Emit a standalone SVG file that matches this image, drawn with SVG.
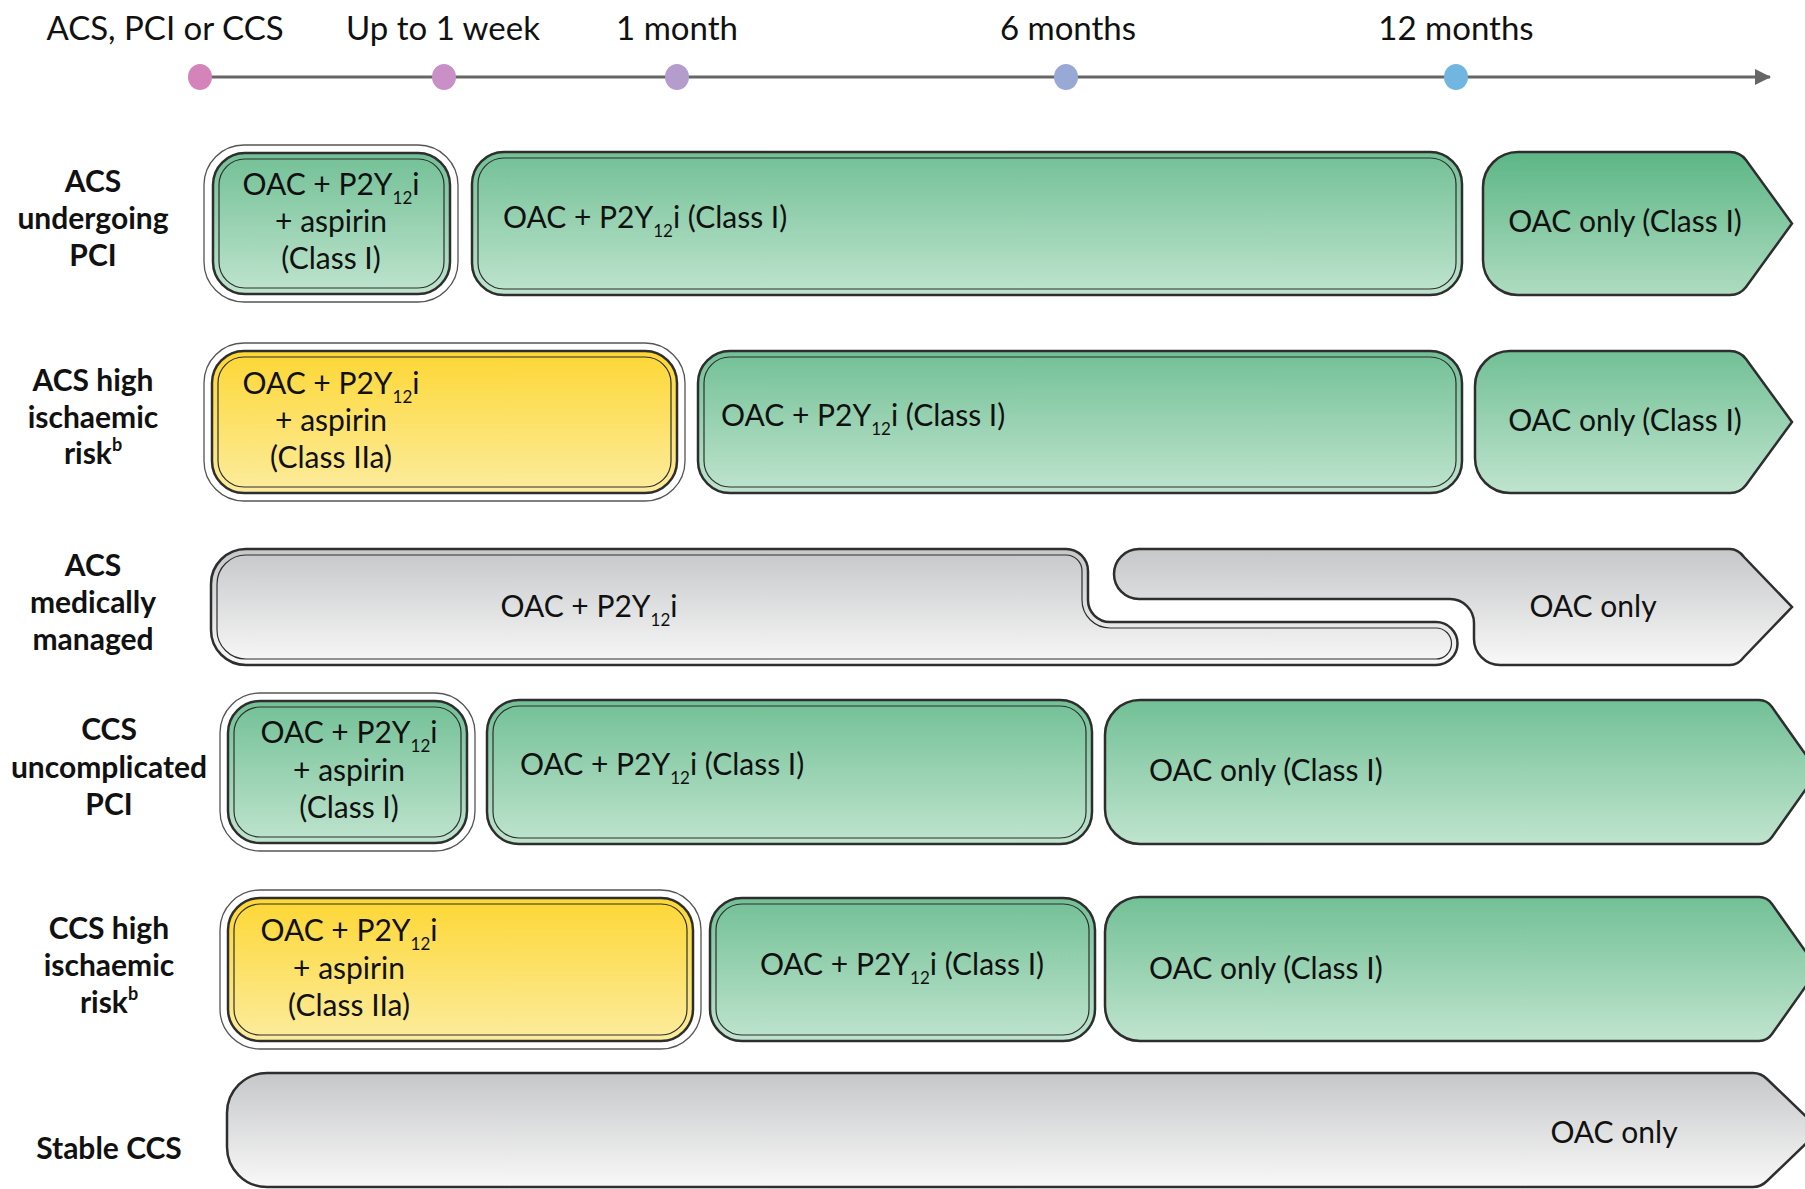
<svg xmlns="http://www.w3.org/2000/svg" width="1805" height="1189" viewBox="0 0 1805 1189">
<defs>
<linearGradient id="gG" x1="0" y1="0" x2="0" y2="1"><stop offset="0" stop-color="#72c096"/><stop offset="1" stop-color="#bfe4ce"/></linearGradient>
<linearGradient id="gGd" x1="0" y1="0" x2="0" y2="1"><stop offset="0" stop-color="#5cb686"/><stop offset="1" stop-color="#aedcc0"/></linearGradient>
<linearGradient id="gY" x1="0" y1="0" x2="0" y2="1"><stop offset="0" stop-color="#fdd734"/><stop offset="1" stop-color="#fcec9e"/></linearGradient>
<linearGradient id="gS" x1="0" y1="0" x2="0" y2="1"><stop offset="0" stop-color="#c6c7c9"/><stop offset="1" stop-color="#f8f8f8"/></linearGradient>
<marker id="ah" markerWidth="16" markerHeight="16" refX="15" refY="8" orient="auto" markerUnits="userSpaceOnUse"><path d="M0,0 L16,8 L0,16 Z" fill="#666"/></marker>
</defs>
<style>
.o{stroke:#2e2e2e;stroke-width:2.5}
.in{fill:none;stroke:#2e2e2e;stroke-width:1.2}
.halo{fill:#fff;stroke:#555;stroke-width:1.3}
.gr{fill:url(#gG)}
.grd{fill:url(#gGd)}
.ye{fill:url(#gY)}
.si{fill:url(#gS)}
text{font-family:Lato,"Liberation Sans",Arial,sans-serif;fill:#111}
.t{font-size:30px}
.tc{font-size:30px;text-anchor:middle}
.lb{font-size:30px;font-weight:bold;text-anchor:middle}
.tl{font-size:33px;text-anchor:middle}
.sub{font-size:17px}
</style>

<g id="timeline-axis">
<line x1="200" y1="77" x2="1770" y2="77" stroke="#666" stroke-width="3" marker-end="url(#ah)"/>
<ellipse cx="200" cy="77" rx="12" ry="13" fill="#d484b8"/>
<ellipse cx="444" cy="77" rx="12" ry="13" fill="#c890c6"/>
<ellipse cx="677" cy="77" rx="12" ry="13" fill="#b49ccc"/>
<ellipse cx="1066" cy="77" rx="12" ry="13" fill="#98a9d6"/>
<ellipse cx="1456" cy="77" rx="12" ry="13" fill="#70b6e0"/>
<text class="tl" x="165" y="40">ACS, PCI or CCS</text>
<text class="tl" x="443" y="40">Up to 1 week</text>
<text class="tl" x="677" y="40">1 month</text>
<text class="tl" x="1068" y="40">6 months</text>
<text class="tl" x="1456" y="40">12 months</text>
</g>

<g id="row-labels">
<text class="lb" x="93" y="192">ACS</text>
<text class="lb" x="93" y="229">undergoing</text>
<text class="lb" x="93" y="266">PCI</text>
<text class="lb" x="93" y="391">ACS high</text>
<text class="lb" x="93" y="428">ischaemic</text>
<text class="lb" x="93" y="464">risk<tspan font-size="18" dy="-13">b</tspan></text>
<text class="lb" x="93" y="576">ACS</text>
<text class="lb" x="93" y="613">medically</text>
<text class="lb" x="93" y="650">managed</text>
<text class="lb" x="109" y="740">CCS</text>
<text class="lb" x="109" y="778">uncomplicated</text>
<text class="lb" x="109" y="815">PCI</text>
<text class="lb" x="109" y="939">CCS high</text>
<text class="lb" x="109" y="976">ischaemic</text>
<text class="lb" x="109" y="1013">risk<tspan font-size="18" dy="-13">b</tspan></text>
<text class="lb" x="109" y="1159">Stable CCS</text>
</g>

<!-- Row 1 -->
<g id="r1-triple">
<rect class="halo" x="204" y="145" width="254" height="157" rx="40"/>
<rect class="o gr" x="213" y="153" width="237" height="141" rx="32"/>
<rect class="in" x="219" y="159" width="225" height="129" rx="26"/>
<text class="tc" x="331" y="195">OAC + P2Y<tspan class="sub" dy="9">12</tspan><tspan dy="-9">i</tspan></text>
<text class="tc" x="331" y="232">+ aspirin</text>
<text class="tc" x="331" y="269">(Class I)</text>
</g>
<g id="r1-dual">
<rect class="o gr" x="472" y="152" width="990" height="143" rx="32"/>
<rect class="in" x="478" y="158" width="978" height="131" rx="26"/>
<text class="t" x="503" y="228">OAC + P2Y<tspan class="sub" dy="9">12</tspan><tspan dy="-9">i (Class I)</tspan></text>
</g>
<g id="r1-oac">
<path class="o grd" d="M1518,152 H1730 Q1740,152 1746,160 L1792,223.5 L1746,287 Q1740,295 1730,295 H1518 A35,35 0 0 1 1483,260 V187 A35,35 0 0 1 1518,152 Z"/>
<text class="tc" x="1625" y="232">OAC only (Class I)</text>
</g>

<!-- Row 2 -->
<g id="r2-triple">
<rect class="halo" x="204" y="343" width="481" height="158" rx="40"/>
<rect class="o ye" x="212" y="351" width="465" height="142" rx="32"/>
<rect class="in" x="218" y="357" width="453" height="130" rx="26"/>
<text class="tc" x="331" y="394">OAC + P2Y<tspan class="sub" dy="9">12</tspan><tspan dy="-9">i</tspan></text>
<text class="tc" x="331" y="431">+ aspirin</text>
<text class="tc" x="331" y="468">(Class IIa)</text>
</g>
<g id="r2-dual">
<rect class="o gr" x="698" y="351" width="764" height="142" rx="32"/>
<rect class="in" x="704" y="357" width="752" height="130" rx="26"/>
<text class="t" x="721" y="426">OAC + P2Y<tspan class="sub" dy="9">12</tspan><tspan dy="-9">i (Class I)</tspan></text>
</g>
<g id="r2-oac">
<path class="o gr" d="M1510,351 H1730 Q1740,351 1746,359 L1792,422 L1746,485 Q1740,493 1730,493 H1510 A35,35 0 0 1 1475,458 V386 A35,35 0 0 1 1510,351 Z"/>
<text class="tc" x="1625" y="431">OAC only (Class I)</text>
</g>

<!-- Row 3 -->
<g id="r3-dual">
<path class="o si" d="M246,549 H1066 A22,22 0 0 1 1088,571 V600 A22,22 0 0 0 1110,622 H1436 A21.5,21.5 0 0 1 1436,665 H246 A35,35 0 0 1 211,630 V584 A35,35 0 0 1 246,549 Z"/>
<path class="in" d="M246,555 H1066 A16,16 0 0 1 1082,571 V600 A28,28 0 0 0 1110,628 H1436 A15.5,15.5 0 0 1 1436,659 H246 A29,29 0 0 1 217,630 V584 A29,29 0 0 1 246,555 Z"/>
<text class="tc" x="589" y="617">OAC + P2Y<tspan class="sub" dy="9">12</tspan><tspan dy="-9">i</tspan></text>
</g>
<g id="r3-oac">
<path class="o si" d="M1139,549 H1730 Q1738,549 1744,557 L1792,607 L1744,657 Q1738,665 1730,665 H1500 A26,26 0 0 1 1474,639 V623 A24,24 0 0 0 1450,599 H1139 A25,25 0 0 1 1139,549 Z"/>
<text class="tc" x="1593" y="617">OAC only</text>
</g>

<!-- Row 4 -->
<g id="r4-triple">
<rect class="halo" x="220" y="693" width="255" height="158" rx="40"/>
<rect class="o gr" x="228" y="701" width="239" height="142" rx="32"/>
<rect class="in" x="234" y="707" width="227" height="130" rx="26"/>
<text class="tc" x="349" y="743">OAC + P2Y<tspan class="sub" dy="9">12</tspan><tspan dy="-9">i</tspan></text>
<text class="tc" x="349" y="781">+ aspirin</text>
<text class="tc" x="349" y="818">(Class I)</text>
</g>
<g id="r4-dual">
<rect class="o gr" x="487" y="700" width="605" height="144" rx="32"/>
<rect class="in" x="493" y="706" width="593" height="132" rx="26"/>
<text class="t" x="520" y="775">OAC + P2Y<tspan class="sub" dy="9">12</tspan><tspan dy="-9">i (Class I)</tspan></text>
</g>
<g id="r4-oac">
<path class="o gr" d="M1140,700 H1759 Q1767,700 1772,707 L1818,772 L1772,837 Q1767,844 1759,844 H1140 A35,35 0 0 1 1105,809 V735 A35,35 0 0 1 1140,700 Z"/>
<text class="t" x="1149" y="781">OAC only (Class I)</text>
</g>

<!-- Row 5 -->
<g id="r5-triple">
<rect class="halo" x="220" y="890" width="481" height="159" rx="40"/>
<rect class="o ye" x="228" y="898" width="465" height="143" rx="32"/>
<rect class="in" x="234" y="904" width="453" height="131" rx="26"/>
<text class="tc" x="349" y="941">OAC + P2Y<tspan class="sub" dy="9">12</tspan><tspan dy="-9">i</tspan></text>
<text class="tc" x="349" y="979">+ aspirin</text>
<text class="tc" x="349" y="1016">(Class IIa)</text>
</g>
<g id="r5-dual">
<rect class="o gr" x="710" y="898" width="385" height="143" rx="32"/>
<rect class="in" x="716" y="904" width="373" height="131" rx="26"/>
<text class="tc" x="902" y="975">OAC + P2Y<tspan class="sub" dy="9">12</tspan><tspan dy="-9">i (Class I)</tspan></text>
</g>
<g id="r5-oac">
<path class="o gr" d="M1140,897 H1759 Q1767,897 1772,904 L1818,969 L1772,1034 Q1767,1041 1759,1041 H1140 A35,35 0 0 1 1105,1006 V932 A35,35 0 0 1 1140,897 Z"/>
<text class="t" x="1149" y="979">OAC only (Class I)</text>
</g>

<!-- Row 6 -->
<g id="r6-oac">
<path class="o si" d="M267,1073 H1753 Q1761,1073 1767,1079 L1820,1130 L1767,1181 Q1761,1187 1753,1187 H267 A40,40 0 0 1 227,1147 V1113 A40,40 0 0 1 267,1073 Z"/>
<text class="tc" x="1614" y="1143">OAC only</text>
</g>
</svg>
